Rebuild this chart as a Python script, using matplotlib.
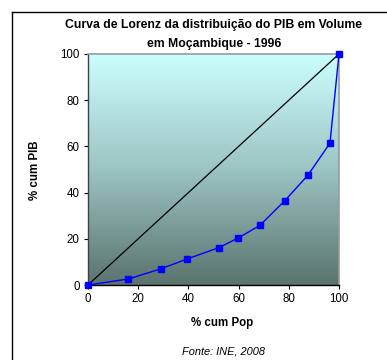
import numpy as np
import matplotlib
matplotlib.use("Agg")
import matplotlib.pyplot as plt
from matplotlib.colors import LinearSegmentedColormap
from matplotlib.lines import Line2D

plt.rcParams['font.family'] = ['Liberation Sans', 'DejaVu Sans']

# Data
pop = [0, 16.1, 29.0, 39.3, 52.2, 59.9, 68.5, 78.4, 87.6, 96.4, 100]
pib = [0, 2.6, 7.0, 11.2, 16.2, 20.4, 25.8, 36.5, 47.5, 61.4, 100]
equal = [0, 16.1, 29.0, 39.3, 52.2, 59.9, 68.5, 78.4, 87.6, 96.4, 100]
ticks = [0, 20, 40, 60, 80, 100]

W, H = 387, 360
fig = plt.figure(figsize=(W / 100, H / 100), dpi=100)
fig.patch.set_facecolor('white')

ax = fig.add_axes([88 / W, 1 - 285 / H, (339 - 88) / W, (285 - 54) / H])
ax.set_xlim(0, 100)
ax.set_ylim(0, 100)

# gradient background
cmap = LinearSegmentedColormap.from_list('g', ['#5A736D', '#9CC4C3', '#CCFFFF'])
grad = np.linspace(0, 1, 256).reshape(-1, 1)
ax.imshow(grad, extent=[0, 100, 0, 100], origin='lower', cmap=cmap,
          aspect='auto', zorder=0)

ax.plot(pop, equal, color='black', lw=0.9, zorder=2)
ax.plot(pop, pib, color='#0000FF', lw=1.0, marker='s', markersize=4.5,
        markerfacecolor='#0000FF', markeredgecolor='#0000FF', zorder=3,
        clip_on=False)

ax.set_xticks(ticks)
ax.set_yticks(ticks)
ax.tick_params(axis='both', labelsize=8.3, direction='out', length=3,
               width=0.8, color='black', pad=3)
for s in ['top', 'right']:
    ax.spines[s].set_color('#9A9A9A')
    ax.spines[s].set_linewidth(1.2)
ax.spines['left'].set_color('#404040')
ax.spines['bottom'].set_color('black')
ax.spines['left'].set_linewidth(1.0)
ax.spines['bottom'].set_linewidth(1.0)

fig.text(214 / W, 1 - 25 / H, "Curva de Lorenz da distribuição do PIB em Volume",
         ha='center', va='center', fontsize=8.8, fontweight='bold')
fig.text(214 / W, 1 - 44 / H, "em Moçambique - 1996",
         ha='center', va='center', fontsize=8.8, fontweight='bold')

fig.text(35 / W, 1 - 170 / H, "% cum PIB", rotation=90, ha='center',
         va='center', fontsize=8.3, fontweight='bold')
fig.text(222 / W, 1 - 323 / H, "% cum Pop", ha='center', va='center',
         fontsize=8.3, fontweight='bold')
fig.text(224 / W, 1 - 352 / H, "Fonte: INE, 2008", ha='center', va='center',
         fontsize=7.9, style='italic')

# outer frame (left and top visible)
fig.add_artist(Line2D([12.5 / W, 12.5 / W], [0, 1 - 11.5 / H], color='black',
                      lw=1.0, transform=fig.transFigure))
fig.add_artist(Line2D([12.5 / W, 1], [1 - 11.5 / H, 1 - 11.5 / H],
                      color='black', lw=1.0, transform=fig.transFigure))

fig.savefig('out.png', dpi=100)
